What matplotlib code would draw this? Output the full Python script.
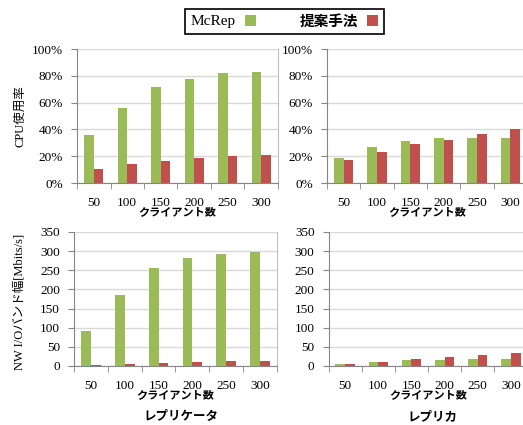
import matplotlib
matplotlib.use("Agg")
import matplotlib.pyplot as plt
import numpy as np
from matplotlib.patches import Patch
from matplotlib.ticker import FixedLocator, PercentFormatter

plt.rcParams['font.family'] = ['Liberation Serif', 'Noto Sans CJK JP']

clients = ['50', '100', '150', '200', '250', '300']
series_names = ['McRep', '提案手法']

# CPU usage (%)
cpu_replicator_mcrep = [35.8, 56.2, 71.9, 77.8, 82.0, 82.8]
cpu_replicator_prop = [10.2, 13.9, 16.4, 18.7, 20.4, 20.7]
cpu_replica_mcrep = [18.7, 27.0, 31.3, 33.3, 33.3, 33.3]
cpu_replica_prop = [17.2, 23.1, 28.9, 32.3, 36.6, 40.3]

# network bandwidth (Mbits/s)
nw_replicator_mcrep = [91.4, 184.6, 257.0, 283.0, 293.5, 297.7]
nw_replicator_prop = [3.0, 5.0, 8.0, 10.0, 12.0, 14.0]
nw_replica_mcrep = [5.0, 10.0, 16.0, 16.5, 17.0, 17.5]
nw_replica_prop = [5.0, 10.0, 18.0, 24.0, 29.0, 35.0]

GREEN = '#9BBB59'
RED = '#C0504D'
W, H = 523, 425


def make_axes(fig, left, top, width, height):
    return fig.add_axes([left / W, 1 - (top + height) / H, width / W, height / H])


def draw_panel(ax, mcrep, prop, ymax, ystep, percent):
    x = np.arange(len(clients))
    bw = 0.29
    ax.bar(x - bw / 2, mcrep, bw, color=GREEN, zorder=3)
    ax.bar(x + bw / 2, prop, bw, color=RED, zorder=3)
    ax.set_xlim(-0.5, len(clients) - 0.5)
    ax.set_ylim(0, ymax)
    ax.set_yticks(np.arange(0, ymax + 1, ystep))
    if percent:
        ax.yaxis.set_major_formatter(PercentFormatter(decimals=0))
    ax.set_xticks(x)
    ax.set_xticklabels(clients)
    ax.xaxis.set_minor_locator(FixedLocator(np.arange(-0.5, len(clients), 1.0)))
    ax.tick_params(axis='x', which='major', length=0, pad=10, labelsize=9.5)
    ax.tick_params(axis='x', which='minor', length=4, color='#868686', direction='out')
    ax.tick_params(axis='y', length=4, color='#868686', pad=6, labelsize=9.5)
    ax.grid(axis='y', color='#D9D9D9', linewidth=1.0, zorder=0)
    ax.spines['top'].set_visible(False)
    ax.spines['left'].set_color('#868686')
    ax.spines['bottom'].set_color('#868686')
    ax.spines['right'].set_color('#BFBFBF')
    ax.set_xlabel('クライアント数', fontsize=8, fontweight='bold', labelpad=-1)


fig = plt.figure(figsize=(5.23, 4.25), dpi=100)

ax1 = make_axes(fig, 77, 49, 201, 134)
ax2 = make_axes(fig, 327, 49, 200, 134)
ax3 = make_axes(fig, 74, 232, 203, 134)
ax4 = make_axes(fig, 328.5, 232, 199, 134)

draw_panel(ax1, cpu_replicator_mcrep, cpu_replicator_prop, 100, 20, True)
draw_panel(ax2, cpu_replica_mcrep, cpu_replica_prop, 100, 20, True)
draw_panel(ax3, nw_replicator_mcrep, nw_replicator_prop, 350, 50, False)
draw_panel(ax4, nw_replica_mcrep, nw_replica_prop, 350, 50, False)

fig.text(20 / W, 1 - 116 / H, 'CPU使用率', rotation=90, ha='center', va='center', fontsize=9)
fig.text(20 / W, 1 - 302 / H, 'NW I/Oバンド幅[Mbits/s]', rotation=90,
         ha='center', va='center', fontsize=9)

fig.text(181 / W, 1 - 417 / H, 'レプリケータ', ha='center', va='center',
         fontsize=9, fontweight='bold')
fig.text(433 / W, 1 - 417 / H, 'レプリカ', ha='center', va='center',
         fontsize=9, fontweight='bold')

handles = [Patch(facecolor=GREEN), Patch(facecolor=RED)]
leg = fig.legend(handles, series_names, loc='center', ncol=2,
                 bbox_to_anchor=(284.5 / W, 1 - 21.5 / H), markerfirst=False,
                 fontsize=11, handlelength=0.75, handleheight=0.75,
                 handletextpad=0.6, columnspacing=2.8, borderpad=0.35,
                 fancybox=False, edgecolor='black', framealpha=1)
leg.get_frame().set_linewidth(1.2)
for t in leg.get_texts():
    if t.get_text() == '提案手法':
        t.set_fontweight('bold')
        t.set_fontsize(10.5)

fig.savefig('out.png', dpi=100)
